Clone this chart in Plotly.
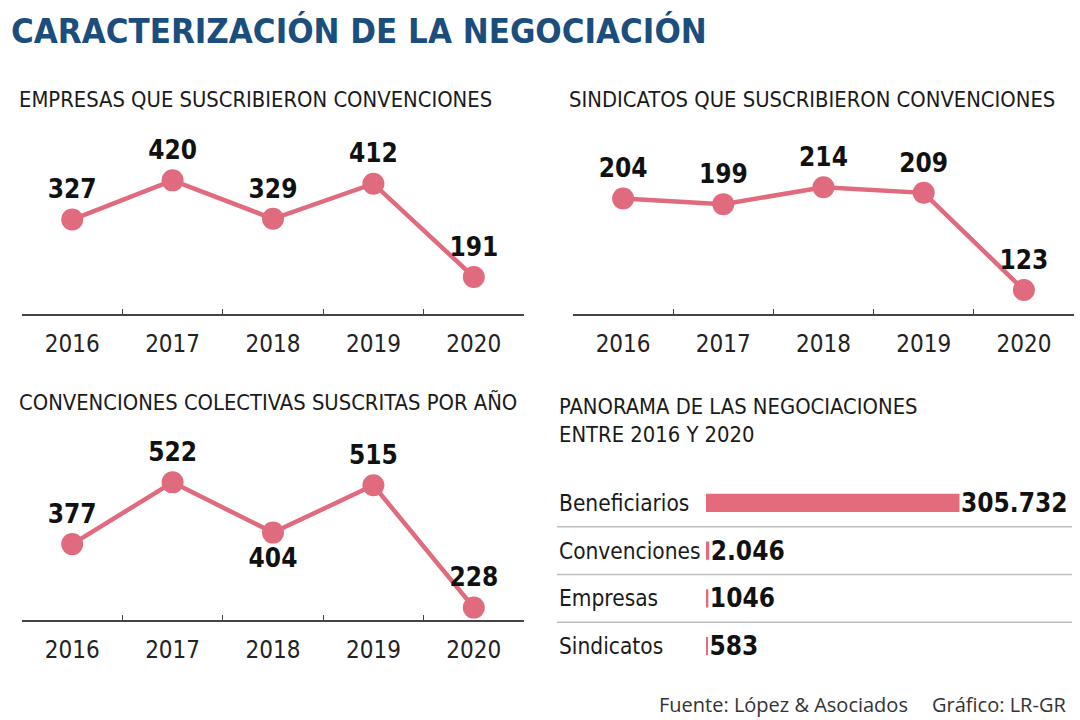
import plotly.graph_objects as go

# ---------------- data ----------------
years = ["2016", "2017", "2018", "2019", "2020"]
empresas = [327, 420, 329, 412, 191]
sindicatos = [204, 199, 214, 209, 123]
convenciones = [377, 522, 404, 515, 228]

panorama_cats = ["Beneficiarios", "Convenciones", "Empresas", "Sindicatos"]
panorama_vals = [305732, 2046, 1046, 583]
panorama_labels = ["305.732", "2.046", "1046", "583"]

title_main = "CARACTERIZACIÓN DE LA NEGOCIACIÓN"
title_1 = "EMPRESAS QUE SUSCRIBIERON CONVENCIONES"
title_2 = "SINDICATOS QUE SUSCRIBIERON CONVENCIONES"
title_3 = "CONVENCIONES COLECTIVAS SUSCRITAS POR AÑO"
title_4 = "PANORAMA DE LAS NEGOCIACIONES<br>ENTRE 2016 Y 2020"
source = "Fuente: López & Asociados"
credit = "Gráfico: LR-GR"

# ---------------- style ----------------
W, H = 1080, 720
NARROW = "DejaVu Sans Condensed, Liberation Sans Narrow, sans-serif"
PINK = "#e06a7e"
BAR = "#e36b7c"
BLUE = "#1b4e7c"
INK = "#111111"
AXIS = "#444444"


def fx(px):
    return px / W


def fy(py):
    return 1 - py / H


fig = go.Figure()

line_style = dict(color=PINK, width=4.5)
marker_style = dict(color=PINK, size=22)
label_font = dict(family=NARROW, size=26, color=INK, weight="bold")

fig.add_trace(go.Scatter(x=years, y=empresas, mode="lines+markers+text",
                         text=[str(v) for v in empresas], textposition="top center",
                         textfont=label_font, line=line_style, marker=marker_style,
                         cliponaxis=False, xaxis="x", yaxis="y", hoverinfo="skip"))
fig.add_trace(go.Scatter(x=years, y=sindicatos, mode="lines+markers+text",
                         text=[str(v) for v in sindicatos], textposition="top center",
                         textfont=label_font, line=line_style, marker=marker_style,
                         cliponaxis=False, xaxis="x2", yaxis="y2", hoverinfo="skip"))
fig.add_trace(go.Scatter(x=years, y=convenciones, mode="lines+markers+text",
                         text=[str(v) for v in convenciones],
                         textposition=["top center", "top center", "bottom center",
                                       "top center", "top center"],
                         textfont=label_font, line=line_style, marker=marker_style,
                         cliponaxis=False, xaxis="x3", yaxis="y3", hoverinfo="skip"))
fig.add_trace(go.Bar(x=panorama_vals, y=panorama_cats, orientation="h",
                     text=panorama_labels, textposition="outside", constraintext="none",
                     textfont=dict(family=NARROW, size=26, color=INK, weight="bold"),
                     marker=dict(color=BAR, line=dict(color=BAR, width=3)),
                     cliponaxis=False, xaxis="x4", yaxis="y4", hoverinfo="skip"))

xcat = dict(type="category", range=[-0.5, 4.5], autorange=False,
            showline=True, linecolor=AXIS, linewidth=1.5,
            ticks="inside", ticklen=5, tickwidth=1.2, tickcolor=AXIS,
            tickson="boundaries", showgrid=False, zeroline=False,
            tickfont=dict(family=NARROW, size=24, color="#222222"),
            ticklabelstandoff=7, fixedrange=True)
yhid = dict(visible=False, fixedrange=True)

fig.update_layout(
    width=W, height=H, margin=dict(l=0, r=0, t=0, b=0),
    paper_bgcolor="white", plot_bgcolor="white", showlegend=False,
    bargap=0.68,
    xaxis=dict(xcat, domain=[fx(22), fx(524)], anchor="y"),
    yaxis=dict(yhid, domain=[fy(314), fy(130)], range=[103.3, 539.3], anchor="x"),
    xaxis2=dict(xcat, domain=[fx(573), fx(1074)], anchor="y2"),
    yaxis2=dict(yhid, domain=[fy(314), fy(130)], range=[101.8, 264.6], anchor="x2"),
    xaxis3=dict(xcat, domain=[fx(22), fx(524)], anchor="y3"),
    yaxis3=dict(yhid, domain=[fy(620), fy(440)], range=[198.9, 621.4], anchor="x3"),
    xaxis4=dict(visible=False, domain=[fx(706), fx(1075)], range=[0, 447687],
                anchor="y4", fixedrange=True),
    yaxis4=dict(visible=False, domain=[fy(670), fy(479)], autorange="reversed",
                type="category", anchor="x4", fixedrange=True),
)

# separator lines between rows of the panorama
for b in [0.5, 1.5, 2.5]:
    fig.add_shape(type="line", xref="paper", yref="y4", x0=fx(557), x1=fx(1072),
                  y0=b, y1=b, line=dict(color="#bdbdbd", width=1.5))

ann = []
ann.append(dict(text=title_main, x=fx(9), y=fy(31), xanchor="left", yanchor="middle",
                font=dict(family=NARROW, size=34.5, color=BLUE, weight="bold")))
sub_font = dict(family=NARROW, size=21.8, color="#1a1a1a")
ann.append(dict(text=title_1, x=fx(17), y=fy(100), xanchor="left", yanchor="middle", font=sub_font))
ann.append(dict(text=title_2, x=fx(567), y=fy(100), xanchor="left", yanchor="middle", font=sub_font))
ann.append(dict(text=title_3, x=fx(17), y=fy(402), xanchor="left", yanchor="middle", font=sub_font))
ann.append(dict(text=title_4, x=fx(557), y=fy(420), xanchor="left", yanchor="middle",
                align="left", font=sub_font))
for c in panorama_cats:
    ann.append(dict(text=c, x=fx(557), xref="paper", y=c, yref="y4", xanchor="left",
                    yanchor="middle", font=dict(family=NARROW, size=22.5, color="#1a1a1a")))
foot_font = dict(family="Open Sans, Noto Sans, sans-serif", size=20, color="#333333")
ann.append(dict(text=source, x=fx(910), y=fy(704), xanchor="right", yanchor="middle", font=foot_font))
ann.append(dict(text=credit, x=fx(1068), y=fy(704), xanchor="right", yanchor="middle", font=foot_font))

for a in ann:
    a.setdefault("xref", "paper")
    a.setdefault("yref", "paper")
    a["showarrow"] = False
    fig.add_annotation(**a)

fig.write_html("out.html", config={"displayModeBar": False},
               post_script="document.body.style.margin='0';")
